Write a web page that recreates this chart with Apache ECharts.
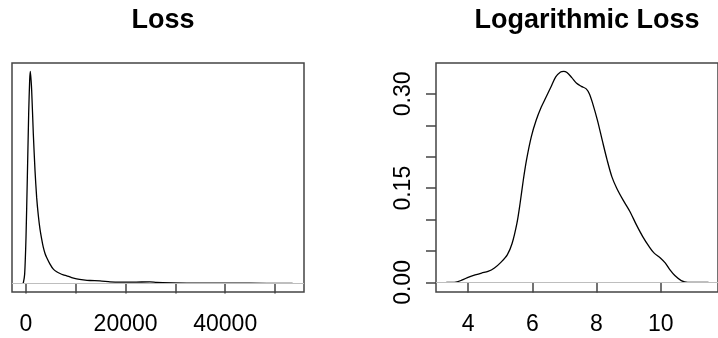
<!DOCTYPE html>
<html>
<head>
<meta charset="utf-8">
<script src="https://cdn.jsdelivr.net/npm/echarts@6/dist/echarts.min.js"></script>
<style>
  html, body { margin: 0; padding: 0; background: #fff; }
  #chart { width: 718px; height: 338px; }
</style>
</head>
<body>
<div id="chart"></div>
<script>
// Loss: kernel density (y in units of 1e-4)
const lossX = [-670, -535, -270, 0, 270, 535, 735, 870, 1140, 1470, 1810, 2140, 2480, 2810,
  3150, 3480, 3820, 4150, 4820, 5490, 6160, 6830, 7500, 8170, 9170, 10170, 11510, 12850,
  14860, 16870, 18870, 21550, 24900, 26240, 29580, 34940, 41630, 48320, 53540];
const lossY = [0, 0.009, 0.128, 0.63, 1.452, 2.32, 2.777, 2.9, 2.64, 2.046, 1.544, 1.178, 0.927, 0.744,
  0.607, 0.493, 0.411, 0.356, 0.265, 0.196, 0.16, 0.137, 0.119, 0.105, 0.082, 0.064, 0.05, 0.041,
  0.037, 0.023, 0.018, 0.018, 0.023, 0.014, 0.009, 0.005, 0.005, 0.002, 0.001];

// Logarithmic loss: kernel density
const logX = [3.32, 3.62, 3.82, 4.02, 4.22, 4.42, 4.62, 4.82, 5.02, 5.22, 5.37, 5.52, 5.62, 5.72,
  5.82, 5.97, 6.12, 6.28, 6.43, 6.58, 6.73, 6.88, 6.98, 7.08, 7.23, 7.38, 7.53, 7.68, 7.78, 7.88,
  8.03, 8.18, 8.33, 8.48, 8.63, 8.83, 9.04, 9.24, 9.44, 9.64, 9.79, 9.99, 10.14, 10.29, 10.44,
  10.64, 10.84, 11.49];
const logY = [0, 0.0005, 0.004, 0.0085, 0.012, 0.015, 0.0175, 0.023, 0.032, 0.044, 0.062, 0.094, 0.126, 0.163,
  0.195, 0.232, 0.258, 0.279, 0.295, 0.311, 0.327, 0.335, 0.336, 0.334, 0.326, 0.317, 0.312, 0.308, 0.3, 0.285,
  0.258, 0.226, 0.195, 0.168, 0.15, 0.131, 0.113, 0.092, 0.073, 0.057, 0.047, 0.039, 0.031, 0.02, 0.011,
  0.003, 0, 0];

const lossTicks = [0, 10000, 20000, 30000, 40000, 50000];
const lossLabels = [0, 20000, 40000];
const logTicks = [4, 6, 8, 10];
const logYTicks = [0, 0.05, 0.1, 0.15, 0.2, 0.25, 0.3];
const logYLabels = [0, 0.15, 0.3];

const font = "'Liberation Sans', Arial, sans-serif";
const lineCol = '#444';

function pairs(xs, ys) {
  return xs.map((x, i) => [x, ys[i]]);
}

const zeroLine = {
  silent: true,
  symbol: 'none',
  label: { show: false },
  lineStyle: { color: '#bebebe', type: 'solid', width: 1 },
  data: [{ yAxis: 0 }]
};

const chart = echarts.init(document.getElementById('chart'));
chart.setOption({
  animation: false,
  backgroundColor: '#fff',
  title: [
    { text: 'Loss', left: 158, top: 2, textAlign: 'center',
      textStyle: { fontFamily: font, fontSize: 27, fontWeight: 'bold', color: '#000' } },
    { text: 'Logarithmic Loss', left: 582, top: 2, textAlign: 'center',
      textStyle: { fontFamily: font, fontSize: 27, fontWeight: 'bold', color: '#000' } }
  ],
  grid: [
    { left: 12, top: 63, width: 292, height: 229, show: true, borderColor: lineCol, borderWidth: 1.5, backgroundColor: 'transparent' },
    { left: 436, top: 63, width: 292, height: 229, show: true, borderColor: lineCol, borderWidth: 1.5, backgroundColor: 'transparent' }
  ],
  xAxis: [
    {
      type: 'value', gridIndex: 0, min: -2811, max: 55823,
      axisLine: { show: false },
      splitLine: { show: false },
      axisTick: { show: true, inside: false, length: 10, customValues: lossTicks, lineStyle: { color: lineCol, width: 1.5 } },
      axisLabel: { customValues: lossLabels, margin: 21, fontSize: 23, fontFamily: font, color: '#000',
        formatter: v => String(v) }
    },
    {
      type: 'value', gridIndex: 1, min: 3.0, max: 11.785,
      axisLine: { show: false },
      splitLine: { show: false },
      axisTick: { show: true, inside: false, length: 10, customValues: logTicks, lineStyle: { color: lineCol, width: 1.5 } },
      axisLabel: { customValues: logTicks, margin: 21, fontSize: 23, fontFamily: font, color: '#000',
        formatter: v => String(v) }
    }
  ],
  yAxis: [
    {
      type: 'value', gridIndex: 0, min: -0.04 * 2.9, max: 1.04 * 2.9,
      show: false, splitLine: { show: false }
    },
    {
      type: 'value', gridIndex: 1, min: -0.0152, max: 0.3492,
      axisLine: { show: false },
      splitLine: { show: false },
      axisTick: { show: true, inside: false, length: 10, customValues: logYTicks, lineStyle: { color: lineCol, width: 1.5 } },
      axisLabel: {
        customValues: logYLabels, rotate: 90, margin: 21, fontSize: 23, fontFamily: font, color: '#000',
        formatter: v => v.toFixed(2)
      }
    }
  ],
  series: [
    {
      type: 'line', xAxisIndex: 0, yAxisIndex: 0,
      data: pairs(lossX, lossY),
      showSymbol: false, smooth: 0.2,
      lineStyle: { color: '#000', width: 1.3 },
      markLine: zeroLine,
      z: 3
    },
    {
      type: 'line', xAxisIndex: 1, yAxisIndex: 1,
      data: pairs(logX, logY),
      showSymbol: false, smooth: 0.3,
      lineStyle: { color: '#000', width: 1.3 },
      markLine: zeroLine,
      z: 3
    }
  ]
});
</script>
</body>
</html>
